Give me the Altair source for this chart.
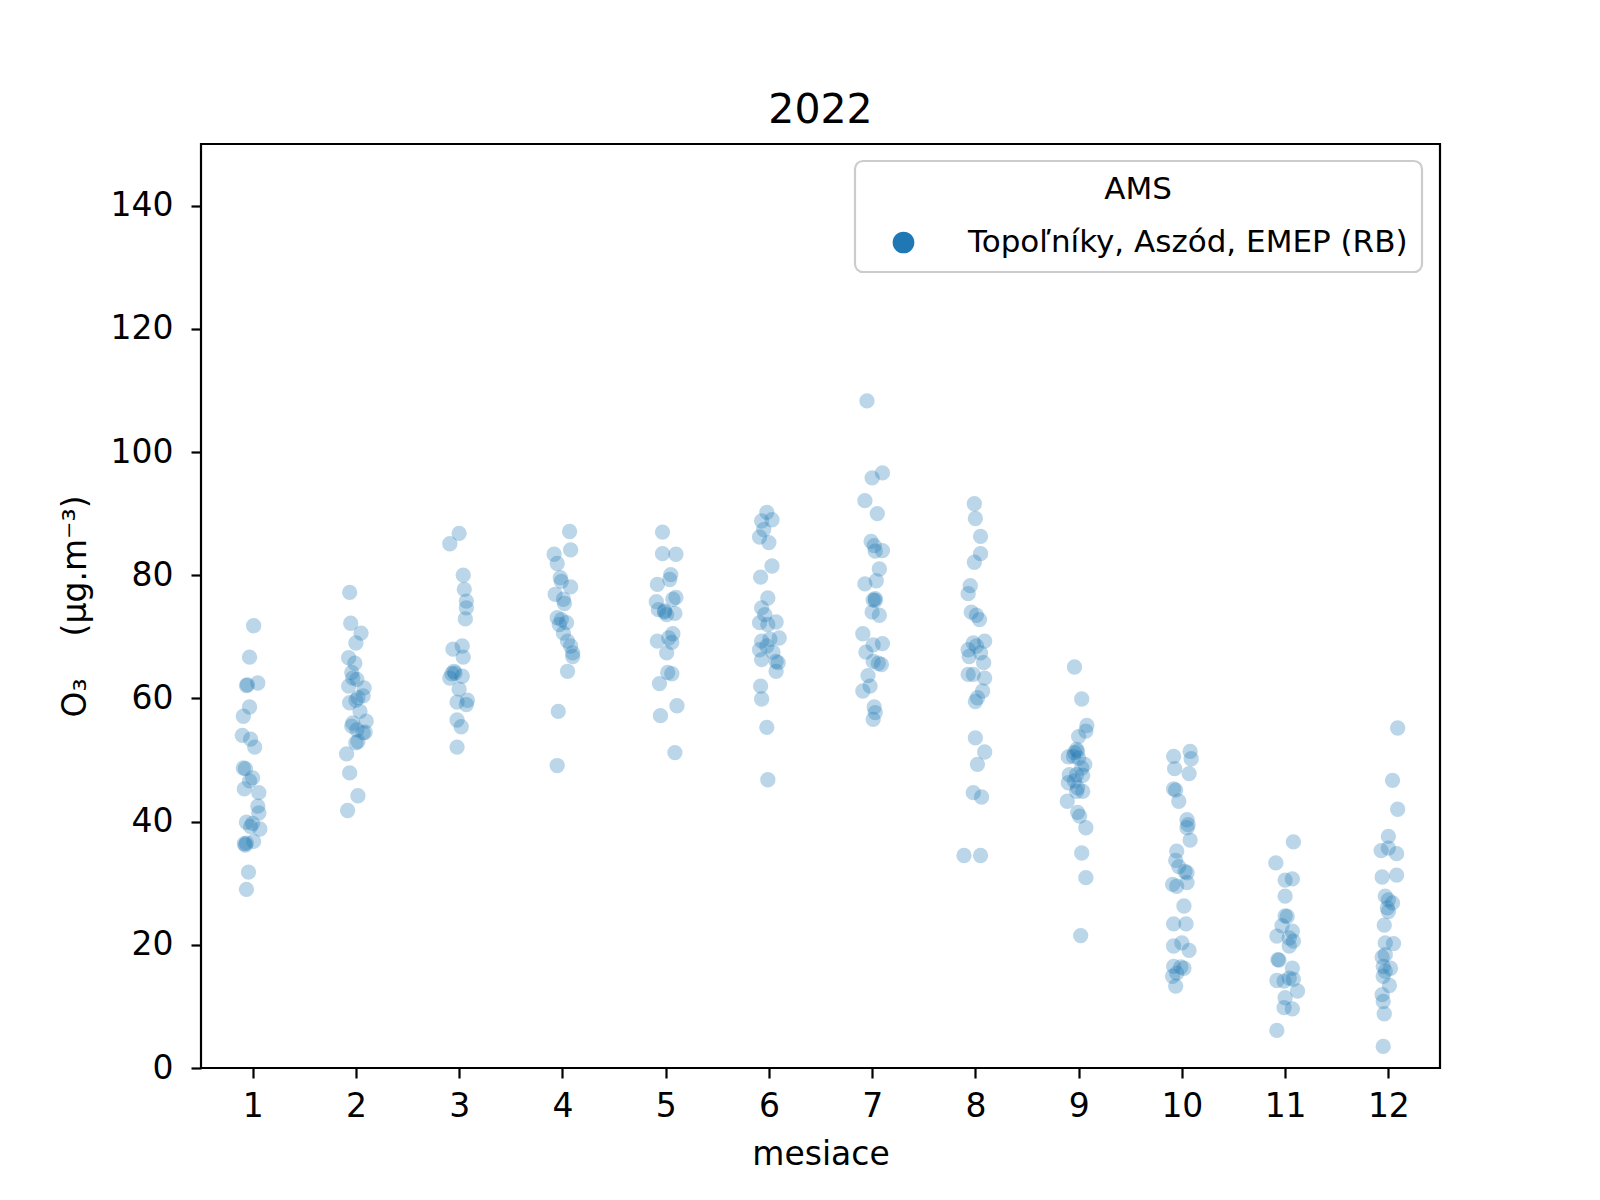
import altair as alt
import pandas as pd

STATION = "Topoľníky, Aszód, EMEP (RB)"
MONTH_TICKS = [1, 2, 3, 4, 5, 6, 7, 8, 9, 10, 11, 12]
Y_TICKS = [0, 20, 40, 60, 80, 100, 120, 140]

# daily O3 values (µg.m-3) read per month, with the strip jitter seen in the picture
o3_m01 = [71.8, 66.7, 62.1, 62.2, 62.5, 58.6, 57.1, 54.0, 53.4, 52.1, 48.7, 48.6, 47.1, 46.6, 45.3, 44.7, 42.5, 41.4, 39.9, 39.7, 39.2, 38.8, 36.8, 36.4, 36.5, 36.2, 31.8, 29.0]
jit_m01 = [0.01, -0.03, -0.06, -0.05, 0.05, -0.03, -0.09, -0.10, -0.02, 0.02, -0.09, -0.07, 0.00, -0.03, -0.08, 0.06, 0.05, 0.06, -0.06, 0.00, -0.02, 0.07, 0.01, -0.08, -0.06, -0.07, -0.04, -0.06]
o3_m02 = [77.2, 72.2, 70.6, 69.0, 66.6, 65.7, 64.2, 63.3, 63.1, 62.0, 61.7, 60.4, 60.1, 59.7, 59.3, 57.9, 56.0, 55.5, 56.3, 54.9, 54.5, 54.4, 53.0, 52.8, 51.0, 47.9, 44.2, 41.8]
jit_m02 = [-0.06, -0.05, 0.05, 0.00, -0.07, -0.01, -0.04, -0.03, 0.01, -0.07, 0.08, 0.07, 0.02, 0.00, -0.06, 0.04, -0.03, -0.04, 0.10, 0.01, 0.09, 0.07, 0.02, 0.00, -0.09, -0.06, 0.02, -0.08]
o3_m03 = [86.8, 85.1, 80.0, 77.7, 75.8, 74.7, 72.9, 68.0, 68.5, 66.7, 64.4, 64.1, 64.0, 63.3, 63.6, 61.5, 59.7, 59.4, 59.0, 56.5, 55.4, 52.1]
jit_m03 = [0.00, -0.09, 0.04, 0.05, 0.07, 0.07, 0.06, -0.06, 0.03, 0.04, -0.05, -0.04, -0.07, -0.09, 0.03, 0.00, 0.08, -0.02, 0.07, -0.02, 0.02, -0.02]
o3_m04 = [87.1, 84.1, 83.4, 81.9, 79.6, 79.0, 78.1, 76.9, 76.1, 75.4, 73.1, 72.8, 72.0, 72.3, 70.6, 69.3, 68.5, 66.8, 67.4, 64.4, 57.9, 49.1]
jit_m04 = [0.07, 0.08, -0.08, -0.05, -0.02, -0.01, 0.08, -0.07, 0.01, 0.02, -0.05, -0.01, -0.03, 0.04, 0.01, 0.05, 0.08, 0.10, 0.10, 0.05, -0.04, -0.05]
o3_m05 = [87.0, 83.5, 83.4, 80.1, 79.3, 78.5, 76.4, 76.1, 75.7, 74.4, 74.2, 73.6, 73.8, 74.0, 70.5, 69.8, 69.3, 69.1, 67.4, 64.2, 64.0, 62.4, 58.8, 57.2, 51.2]
jit_m05 = [-0.03, -0.03, 0.10, 0.05, 0.04, -0.08, 0.10, 0.07, -0.09, -0.07, -0.01, 0.01, 0.09, -0.01, 0.07, 0.03, -0.08, 0.06, 0.01, 0.02, 0.06, -0.06, 0.11, -0.05, 0.09]
o3_m06 = [90.2, 88.8, 89.0, 87.4, 86.2, 85.3, 81.5, 79.7, 76.3, 74.7, 73.6, 72.4, 72.3, 72.0, 69.8, 69.6, 69.3, 67.9, 68.5, 67.5, 66.3, 66.0, 65.8, 64.4, 62.0, 59.9, 55.3, 46.8]
jit_m06 = [-0.02, -0.07, 0.03, -0.05, -0.09, 0.00, 0.03, -0.08, -0.01, -0.07, -0.04, 0.07, -0.09, -0.01, 0.10, 0.01, -0.07, -0.09, -0.02, 0.04, -0.07, 0.07, 0.09, 0.07, -0.08, -0.07, -0.02, -0.01]
o3_m07 = [108.3, 96.6, 95.8, 92.1, 90.0, 85.5, 84.8, 84.0, 83.9, 81.0, 79.1, 78.6, 76.2, 75.9, 76.0, 74.0, 73.5, 70.5, 68.7, 68.9, 67.5, 66.0, 65.7, 65.5, 63.7, 62.0, 61.2, 58.6, 57.7, 56.6]
jit_m07 = [-0.05, 0.10, 0.00, -0.07, 0.05, -0.01, 0.02, 0.10, 0.03, 0.07, 0.04, -0.07, 0.03, 0.03, 0.01, 0.00, 0.07, -0.09, 0.01, 0.10, -0.06, 0.01, 0.06, 0.09, -0.04, -0.02, -0.09, 0.02, 0.03, 0.01]
o3_m08 = [91.6, 89.2, 86.3, 83.5, 82.1, 78.3, 77.0, 74.0, 73.5, 72.8, 69.3, 69.0, 68.5, 67.9, 67.4, 66.8, 65.8, 63.9, 63.9, 63.3, 61.2, 60.1, 59.5, 53.6, 51.3, 49.3, 44.7, 44.0, 34.5, 34.5]
jit_m08 = [-0.01, 0.00, 0.05, 0.05, -0.01, -0.05, -0.07, -0.04, 0.01, 0.04, 0.09, -0.02, 0.01, -0.07, 0.05, -0.06, 0.08, -0.07, -0.02, 0.09, 0.07, 0.02, 0.00, 0.00, 0.09, 0.02, -0.02, 0.06, -0.11, 0.05]
o3_m09 = [65.1, 59.9, 55.6, 54.7, 53.8, 51.7, 51.2, 50.6, 51.4, 50.5, 50.3, 49.3, 48.7, 47.6, 47.6, 47.5, 46.3, 46.6, 45.5, 44.9, 44.9, 43.3, 41.5, 40.9, 39.0, 34.9, 30.9, 21.5]
jit_m09 = [-0.04, 0.03, 0.08, 0.07, 0.00, -0.02, -0.04, -0.05, -0.01, -0.10, 0.00, 0.06, 0.03, -0.09, -0.02, 0.04, -0.10, -0.04, -0.01, 0.04, -0.02, -0.11, -0.01, 0.01, 0.07, 0.03, 0.07, 0.02]
o3_m10 = [50.6, 51.4, 50.2, 48.6, 47.8, 45.3, 45.1, 43.3, 40.3, 39.5, 39.0, 37.0, 35.2, 33.7, 32.7, 31.9, 31.7, 29.8, 29.5, 30.1, 26.3, 23.4, 23.4, 19.8, 20.3, 19.1, 16.5, 16.4, 16.2, 14.9, 15.4, 13.3]
jit_m10 = [-0.08, 0.08, 0.09, -0.07, 0.07, -0.08, -0.06, -0.03, 0.05, 0.06, 0.05, 0.08, -0.05, -0.06, -0.03, 0.03, 0.05, -0.09, -0.05, 0.05, 0.02, -0.08, 0.04, -0.08, 0.00, 0.07, -0.08, -0.01, 0.02, -0.09, -0.05, -0.06]
o3_m11 = [36.7, 33.3, 30.5, 30.7, 27.9, 24.7, 24.6, 23.1, 22.2, 21.4, 21.1, 20.6, 19.8, 17.6, 17.5, 16.2, 14.2, 14.1, 14.6, 14.4, 12.5, 11.4, 9.8, 9.6, 6.1]
jit_m11 = [0.08, -0.09, 0.00, 0.07, 0.00, 0.00, 0.02, -0.03, 0.07, -0.08, 0.04, 0.08, 0.04, -0.07, -0.06, 0.07, -0.08, -0.01, 0.04, 0.08, 0.12, 0.00, -0.01, 0.07, -0.08]
o3_m12 = [55.2, 46.7, 42.0, 37.6, 35.3, 35.7, 34.8, 31.0, 31.3, 27.9, 27.3, 26.8, 26.0, 25.4, 23.2, 20.3, 20.2, 18.0, 18.4, 16.5, 16.2, 15.7, 14.9, 13.4, 11.9, 10.8, 8.8, 3.5]
jit_m12 = [0.09, 0.04, 0.09, 0.00, -0.07, 0.00, 0.08, -0.06, 0.08, -0.03, 0.00, 0.04, -0.01, 0.00, -0.04, -0.03, 0.05, -0.06, -0.03, -0.05, 0.02, -0.03, -0.05, 0.01, -0.06, -0.05, -0.04, -0.05]

values_by_month = [o3_m01, o3_m02, o3_m03, o3_m04, o3_m05, o3_m06,
                   o3_m07, o3_m08, o3_m09, o3_m10, o3_m11, o3_m12]
jitter_by_month = [jit_m01, jit_m02, jit_m03, jit_m04, jit_m05, jit_m06,
                   jit_m07, jit_m08, jit_m09, jit_m10, jit_m11, jit_m12]

rows = []
for m, vals, jits in zip(MONTH_TICKS, values_by_month, jitter_by_month):
    for v, j in zip(vals, jits):
        rows.append({"month": m, "mx": m + j, "o3": v, "station": STATION})
df = pd.DataFrame(rows)

FONT = "DejaVu Sans"
NB = "\u00a0"

chart = alt.Chart(df).mark_circle(size=235, opacity=0.3, strokeWidth=0).encode(
    x=alt.X("mx:Q", scale=alt.Scale(domain=[0.5, 12.5], nice=False, zero=False),
            axis=alt.Axis(values=MONTH_TICKS, format="d", title="mesiace",
                          grid=False, domain=False, tickSize=10, tickWidth=2.2,
                          tickColor="black", labelPadding=12, labelFontSize=33,
                          labelColor="black", titleFontSize=33, titleColor="black",
                          titleFontWeight="normal", titlePadding=15, labelFont=FONT,
                          titleFont=FONT, labelFlush=False)),
    y=alt.Y("o3:Q", scale=alt.Scale(domain=[0, 150], nice=False),
            axis=alt.Axis(values=Y_TICKS, title="O₃" + NB * 4 + "(μg.m⁻³)",
                          grid=False, domain=False, tickSize=10, tickWidth=2.2,
                          tickColor="black", labelPadding=18, labelFontSize=33,
                          labelColor="black", titleFontSize=33, titleColor="black",
                          titleFontWeight="normal", titlePadding=18, labelFont=FONT,
                          titleFont=FONT, labelFlush=False)),
    color=alt.Color("station:N", scale=alt.Scale(range=["#1f77b4"]),
                    legend=alt.Legend(title="AMS", orient="none", legendX=654,
                                      legendY=17, padding=14, symbolOffset=19,
                                      labelOffset=49, titleAnchor="middle",
                                      fillColor="white", strokeColor="#cccccc",
                                      cornerRadius=8, symbolSize=470,
                                      symbolOpacity=1, symbolStrokeWidth=0,
                                      symbolType="circle", labelFontSize=31,
                                      titleFontSize=31, titleFontWeight="normal",
                                      titlePadding=21, labelFont=FONT,
                                      titleFont=FONT, labelColor="black",
                                      titleColor="black", labelLimit=1000)),
).properties(
    width=1239, height=924,
    title=alt.TitleParams("2022", fontSize=41, font=FONT, fontWeight="normal",
                          color="black", anchor="middle", offset=12),
    autosize=alt.AutoSizeParams(type="none"),
    padding={"left": 193, "top": 136, "right": 150, "bottom": 125},
).configure_view(
    stroke="black", strokeWidth=2.2
).configure_legend(
    strokeWidth=2.2
)

chart.save("out.html", embed_options={"renderer": "svg", "actions": False})
